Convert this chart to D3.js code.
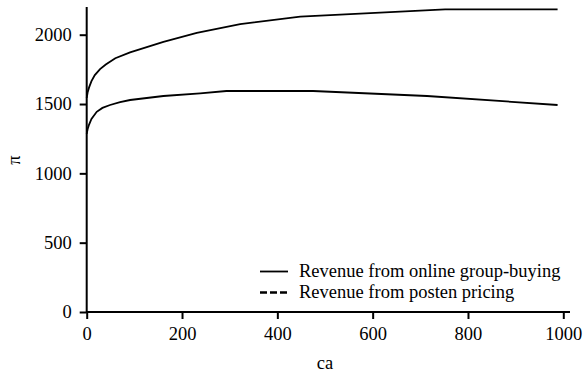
<!DOCTYPE html>
<html><head><meta charset="utf-8">
<script src="https://cdn.jsdelivr.net/npm/d3@7"></script>
<style>
body{margin:0;background:#fff;}
</style></head>
<body><svg id="c" width="588" height="373"></svg>
<script>
const xTicks = [0, 200, 400, 600, 800, 1000];
const yTicks = [0, 500, 1000, 1500, 2000];
const groupX = [0, 2, 5, 10, 17, 28, 40, 60, 91, 161, 231, 322, 448, 752, 988];
const groupY = [1545, 1585, 1620, 1665, 1709, 1752, 1785, 1830, 1873, 1949, 2014, 2077, 2130, 2182, 2182];
const postedX = [0, 2, 5, 10, 21, 33, 49, 70, 91, 161, 238, 293, 475, 714, 988];
const postedY = [1285, 1320, 1352, 1392, 1444, 1472, 1493, 1513, 1529, 1558, 1577, 1594, 1594, 1558, 1493];
const legendLabels = ["Revenue from online group-buying", "Revenue from posten pricing"];

const FONT = "'Liberation Serif', 'Times New Roman', Times, serif";
const FS = "18.5px";
const svg = d3.select("#c");
const x = d3.scaleLinear().domain([0, 1000]).range([86.7, 563.3]);
const y = d3.scaleLinear().domain([0, 2000]).range([312, 34.7]);

// axes
const gx = svg.append("g").attr("transform", "translate(0,312)")
  .call(d3.axisBottom(x).tickValues(xTicks).tickFormat(d3.format("d")).tickSize(7).tickSizeOuter(0).tickPadding(8));
const gy = svg.append("g").attr("transform", "translate(86.7,0)")
  .call(d3.axisLeft(y).tickValues(yTicks).tickFormat(d3.format("d")).tickSize(7).tickSizeOuter(0).tickPadding(8));
[gx, gy].forEach(g => {
  g.attr("font-family", FONT);
  g.select(".domain").remove();
  g.selectAll(".tick line").attr("stroke", "#000").attr("stroke-width", 2);
  g.selectAll(".tick text").attr("fill", "#000").style("font-family", FONT).style("font-size", FS);
});
svg.append("line").attr("x1", x(0)).attr("x2", 570).attr("y1", y(0)).attr("y2", y(0))
  .attr("stroke", "#000").attr("stroke-width", 2);
svg.append("line").attr("x1", x(0)).attr("x2", x(0)).attr("y1", y(0) + 1).attr("y2", 7)
  .attr("stroke", "#000").attr("stroke-width", 2);

// labels
svg.append("text").attr("x", 325).attr("y", 369).attr("text-anchor", "middle")
  .style("font-family", FONT).style("font-size", FS).text("ca");
svg.append("text").attr("transform", "translate(20,160) rotate(-90)").attr("text-anchor", "middle")
  .style("font-family", FONT).style("font-size", FS).text("π");

// lines
const line = d3.line().x(d => x(d[0])).y(d => y(d[1]));
svg.append("path").datum(groupX.map((v, i) => [v, groupY[i]]))
  .attr("d", line).attr("fill", "none").attr("stroke", "#000").attr("stroke-width", 1.8);
svg.append("path").datum(postedX.map((v, i) => [v, postedY[i]]))
  .attr("d", line).attr("fill", "none").attr("stroke", "#000").attr("stroke-width", 1.8);

// legend
const lg = svg.append("g");
legendLabels.forEach((t, i) => {
  const yy = 271.5 + i * 21;
  const l = lg.append("line").attr("x1", 260).attr("x2", 288).attr("y1", yy).attr("y2", yy)
    .attr("stroke", "#000").attr("stroke-width", i === 0 ? 1.8 : 2.6);
  if (i === 1) l.attr("stroke-dasharray", "7,3");
  lg.append("text").attr("x", 299).attr("y", yy + 5.5)
    .style("font-family", FONT).style("font-size", FS).text(t);
});
</script></body></html>
